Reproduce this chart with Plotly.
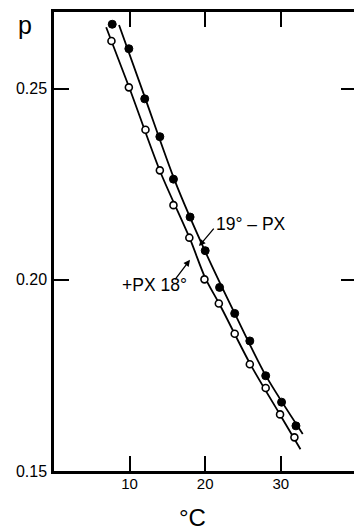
import plotly.graph_objects as go

# Data
temp_filled = [7.7, 9.9, 12.0, 14.0, 15.8, 18.0, 20.0, 21.9, 23.9, 25.9, 28.0, 30.1, 32.0]
p_filled = [0.2668, 0.2604, 0.2473, 0.2374, 0.2263, 0.2164, 0.2076, 0.1980, 0.1912, 0.1840, 0.1749, 0.1680, 0.1618]

temp_open = [7.6, 9.9, 12.1, 14.0, 15.8, 17.9, 19.9, 21.8, 23.9, 25.9, 28.0, 29.9, 31.8]
p_open = [0.2624, 0.2503, 0.2392, 0.2286, 0.2195, 0.2110, 0.2001, 0.1938, 0.1859, 0.1779, 0.1717, 0.1648, 0.1588]

# Drawn fitted curves
line_filled_t = [8.6, 12.0, 16.0, 20.0, 24.0, 28.0, 32.9]
line_filled_p = [0.2666, 0.2478, 0.2258, 0.2074, 0.1908, 0.1750, 0.1597]

line_open_t = [6.9, 10.0, 14.0, 18.0, 20.0, 22.0, 26.0, 30.0, 32.6]
line_open_p = [0.2660, 0.2500, 0.2285, 0.2106, 0.2005, 0.1932, 0.1778, 0.1644, 0.1557]

x_ticks = [10, 20, 30]
y_ticks = [0.15, 0.20, 0.25]
y_ticktext = ["0.15", "0.20", "0.25"]

FONT = "Liberation Sans"

fig = go.Figure()
fig.add_trace(go.Scatter(x=line_filled_t, y=line_filled_p, mode="lines",
                         line=dict(color="black", width=1.8, shape="spline", smoothing=0.8),
                         showlegend=False, hoverinfo="skip"))
fig.add_trace(go.Scatter(x=line_open_t, y=line_open_p, mode="lines",
                         line=dict(color="black", width=1.8, shape="spline", smoothing=0.8),
                         showlegend=False, hoverinfo="skip"))
fig.add_trace(go.Scatter(x=temp_filled, y=p_filled, mode="markers",
                         marker=dict(symbol="circle", size=8, color="black",
                                     line=dict(color="black", width=1)),
                         showlegend=False))
fig.add_trace(go.Scatter(x=temp_open, y=p_open, mode="markers",
                         marker=dict(symbol="circle", size=7, color="white",
                                     line=dict(color="black", width=1.6)),
                         showlegend=False))
# dummy trace for right-side tick axis
fig.add_trace(go.Scatter(x=[None], y=[None], yaxis="y2", showlegend=False, hoverinfo="skip"))

x_range = [0, 39.68]
y_range = [0.15, 0.27]

fig.update_layout(
    width=354, height=531,
    margin=dict(l=54, r=0, t=12, b=60),
    paper_bgcolor="white", plot_bgcolor="white",
    font=dict(family=FONT, color="black"),
    xaxis=dict(range=x_range, tickvals=x_ticks, ticks="inside", ticklen=15, tickwidth=2,
               tickcolor="black", showline=True, linewidth=2.5, linecolor="black",
               mirror="ticks", showgrid=False, zeroline=False, ticklabelstandoff=-3,
               tickfont=dict(size=15, family=FONT, color="black")),
    yaxis=dict(range=y_range, tickvals=y_ticks, ticktext=y_ticktext, ticks="inside",
               ticklen=15, tickwidth=2, tickcolor="black", showline=True, linewidth=2.5,
               linecolor="black", showgrid=False, zeroline=False,
               tickfont=dict(size=16, family=FONT, color="black"), ticklabelstandoff=1),
    yaxis2=dict(range=y_range, overlaying="y", side="right", tickvals=[0.20, 0.25],
                ticks="inside", ticklen=13, tickwidth=2, tickcolor="black",
                showticklabels=False, showline=False, showgrid=False, zeroline=False),
)

# Axis labels
fig.add_annotation(xref="paper", yref="paper", x=-0.097, y=0.972, text="p", showarrow=False,
                   xanchor="center", yanchor="middle", font=dict(size=25, family=FONT))
fig.add_annotation(xref="x", yref="paper", x=18.3, y=-0.102, text="°C", showarrow=False,
                   xanchor="center", yanchor="middle", font=dict(size=24, family=FONT))

# Curve labels
fig.add_annotation(xref="x", yref="y", x=26.0, y=0.2146, text="19° – PX", showarrow=False,
                   xanchor="center", yanchor="middle", font=dict(size=17.5, family=FONT))
fig.add_annotation(xref="x", yref="y", x=13.3, y=0.1986, text="+PX 18°", showarrow=False,
                   xanchor="center", yanchor="middle", font=dict(size=17.5, family=FONT))

# Arrows
fig.add_annotation(xref="x", yref="y", x=19.18, y=0.2088, ax=16, ay=-19, text="",
                   showarrow=True, arrowhead=2, arrowsize=1, arrowwidth=1.3, arrowcolor="black")
fig.add_annotation(xref="x", yref="y", x=17.99, y=0.2052, ax=-16, ay=21, text="",
                   showarrow=True, arrowhead=2, arrowsize=1, arrowwidth=1.3, arrowcolor="black")

fig.write_html("out.html")
